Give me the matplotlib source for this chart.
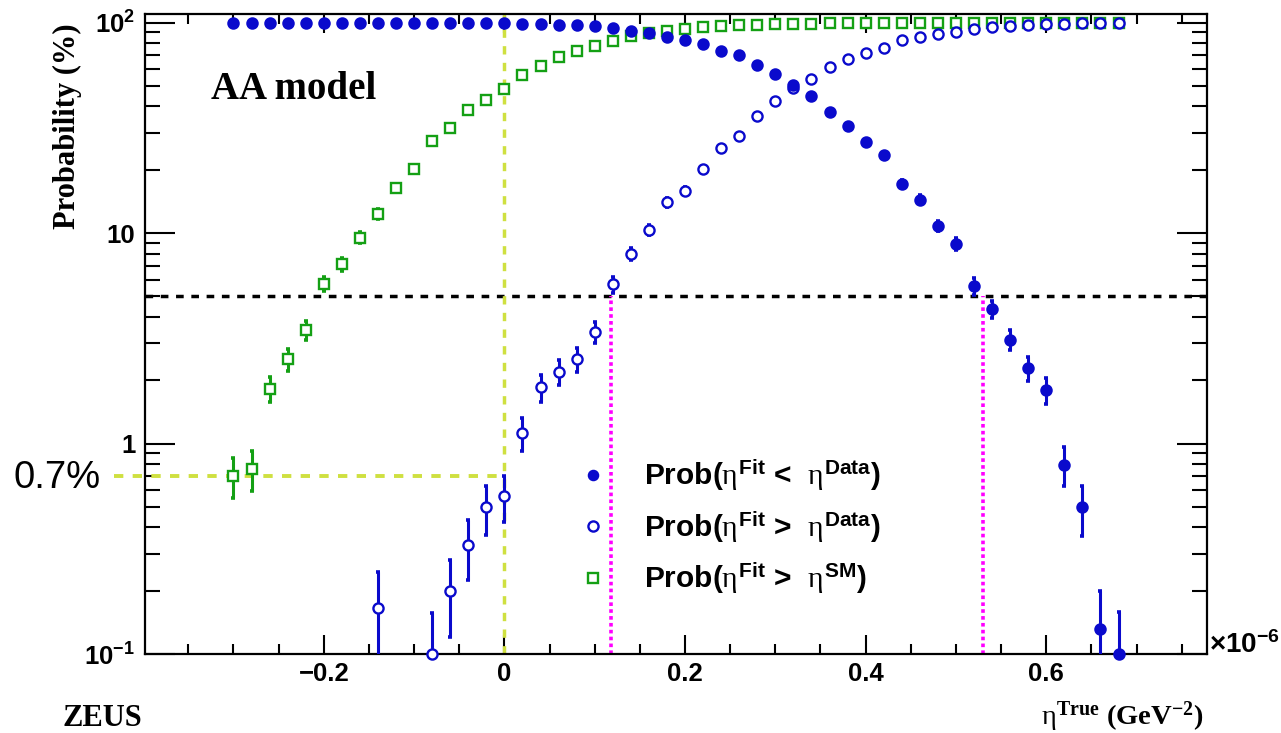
import numpy as np
import matplotlib
matplotlib.use('Agg')
import matplotlib.pyplot as plt
from matplotlib.lines import Line2D
from matplotlib.ticker import FixedLocator, FixedFormatter, MultipleLocator, LogLocator, NullFormatter

# ROOT-like look: bold Helvetica-style labels, upright serif eta in math
plt.rc('mathtext', fontset='custom',
       rm='Liberation Serif:weight=normal', it='Liberation Serif:weight=normal',
       bf='Liberation Sans:bold', sf='Liberation Serif:bold')
plt.rc('font', family='Liberation Sans', weight='bold')

# eta^True (units of 1e-6 GeV^-2)
eta = [-0.30, -0.28, -0.26, -0.24, -0.22, -0.20, -0.18, -0.16, -0.14, -0.12,
       -0.10, -0.08, -0.06, -0.04, -0.02, 0.00, 0.02, 0.04, 0.06, 0.08,
       0.10, 0.12, 0.14, 0.16, 0.18, 0.20, 0.22, 0.24, 0.26, 0.28,
       0.30, 0.32, 0.34, 0.36, 0.38, 0.40, 0.42, 0.44, 0.46, 0.48,
       0.50, 0.52, 0.54, 0.56, 0.58, 0.60, 0.62, 0.64, 0.66, 0.68]

# Prob(eta_fit < eta_data) in %
prob_lt = [99.6, 99.6, 99.6, 99.6, 99.6, 99.6, 99.6, 99.6, 99.5, 99.6,
           99.5, 99.5, 99.4, 99.3, 99.2, 99.2, 98.8, 98.2, 97.8, 97.3,
           96.5, 94.2, 91.5, 89.0, 85.2, 83.0, 78.8, 73.5, 70.5, 63.0,
           56.8, 50.5, 44.8, 37.8, 32.3, 27.1, 23.4, 17.1, 14.4, 10.8,
           8.9, 5.6, 4.37, 3.12, 2.28, 1.79, 0.795, 0.497, 0.132, 0.100]
err_lt = [0.12, 0.12, 0.12, 0.12, 0.12, 0.12, 0.12, 0.12, 0.13, 0.12,
          0.13, 0.13, 0.14, 0.15, 0.16, 0.16, 0.2, 0.25, 0.27, 0.3,
          0.35, 0.45, 0.52, 0.6, 0.67, 0.71, 0.77, 0.83, 0.86, 0.91,
          0.94, 0.94, 0.94, 0.92, 0.88, 0.84, 0.8, 0.71, 0.7, 0.6,
          0.63, 0.51, 0.41, 0.33, 0.29, 0.25, 0.168, 0.133, 0.067, 0.058]

# Prob(eta_fit > eta_data) in %
prob_gt = [0, 0, 0, 0, 0, 0, 0, 0, 0.165, 0,
           0, 0.100, 0.200, 0.33, 0.497, 0.562, 1.12, 1.85, 2.19, 2.51,
           3.40, 5.72, 7.98, 10.4, 14.0, 15.8, 20.2, 25.5, 28.9, 36.1,
           42.3, 48.9, 54.2, 61.8, 66.9, 71.9, 75.8, 82.6, 85.1, 88.3,
           90.2, 93.3, 94.9, 96.3, 97.8, 98.5, 99.0, 99.2, 99.5, 99.7]
err_gt = [0, 0, 0, 0, 0, 0, 0, 0, 0.08, 0,
          0, 0.057, 0.08, 0.105, 0.13, 0.137, 0.2, 0.27, 0.3, 0.33,
          0.4, 0.5, 0.52, 0.58, 0.66, 0.69, 0.76, 0.82, 0.86, 0.91,
          0.93, 0.94, 0.94, 0.92, 0.89, 0.85, 0.81, 0.72, 0.67, 0.61,
          0.56, 0.47, 0.42, 0.36, 0.28, 0.23, 0.19, 0.17, 0.13, 0.1]

# Prob(eta_fit > eta_SM) in %
prob_sm = [0.70, 0.758, 1.82, 2.52, 3.48, 5.75, 7.12, 9.53, 12.35, 16.4,
           20.2, 27.5, 31.6, 38.5, 43.0, 48.4, 56.4, 62.0, 68.7, 73.0,
           77.7, 81.8, 86.4, 88.9, 91.8, 93.6, 95.6, 96.6, 97.0, 97.8,
           98.3, 98.8, 99.0, 99.2, 99.3, 99.4, 99.5, 99.5, 99.5, 99.5,
           99.6, 99.6, 99.6, 99.6, 99.6, 99.7, 99.7, 99.7, 99.7, 99.7]
err_sm = [0.15, 0.16, 0.25, 0.3, 0.36, 0.43, 0.48, 0.55, 0.62, 0.7,
          0.76, 0.84, 0.88, 0.92, 0.94, 0.94, 0.94, 0.92, 0.88, 0.84,
          0.79, 0.73, 0.65, 0.6, 0.52, 0.46, 0.39, 0.34, 0.32, 0.28,
          0.24, 0.2, 0.18, 0.16, 0.15, 0.15, 0.14, 0.14, 0.14, 0.14,
          0.13, 0.13, 0.13, 0.13, 0.13, 0.12, 0.12, 0.12, 0.12, 0.12]

conf_level = 5.0       # 5% probability line
sm_prob_min = 0.7      # smallest Prob(eta_fit > eta_SM)
eta_lo, eta_hi = 0.118, 0.53   # crossings of the 5% line

BLUE = '#0a0acc'
GREEN = '#14a014'
YELLOW = '#cfe040'
MAGENTA = '#ff00ff'

W, H = 1281, 733
fig = plt.figure(figsize=(W / 100, H / 100), dpi=100)
ax = fig.add_axes([145 / W, 1 - 654 / H, (1207 - 145) / W, (654 - 14) / H])
ax.set_yscale('log')
ax.set_xlim(-0.398, 0.778)
ax.set_ylim(0.1, 110)


def draw_points(y, err, marker, face, color, z):
    x = np.asarray(eta)
    y = np.asarray(y, dtype=float)
    err = np.asarray(err, dtype=float)
    keep = y > 0
    ax.errorbar(x[keep], y[keep], yerr=err[keep], fmt='none', ecolor=color,
                elinewidth=2.2, capsize=1.6, capthick=2.6, zorder=z)
    ax.plot(x[keep], y[keep], ls='none', marker=marker, ms=7.3, mfc=face,
            mec=color, mew=1.7, clip_on=False, zorder=z + 0.1)


# reference lines
ax.axhline(conf_level, color='black', lw=2.5, ls=(0, (2.2, 2.2)), zorder=2)
ax.axvline(0, color=YELLOW, lw=2.5, ls=(0, (2.4, 2.4)), zorder=2)
ax.plot([-0.432, 0], [sm_prob_min, sm_prob_min], color=YELLOW, lw=2.8,
        ls=(0, (2.4, 2.4)), clip_on=False, zorder=2)
for xv in (eta_lo, eta_hi):
    ax.plot([xv, xv], [0.1, conf_level], color=MAGENTA, lw=2.6,
            ls=(0, (1, 0.9)), zorder=2)

draw_points(prob_sm, err_sm, 's', 'white', GREEN, 4)
draw_points(prob_gt, err_gt, 'o', 'white', BLUE, 5)
draw_points(prob_lt, err_lt, 'o', BLUE, BLUE, 6)

# axes, ticks
for sp in ax.spines.values():
    sp.set_linewidth(1.6)
ax.xaxis.set_major_locator(FixedLocator([-0.2, 0, 0.2, 0.4, 0.6]))
ax.xaxis.set_major_formatter(FixedFormatter(['\u22120.2', '0', '0.2', '0.4', '0.6']))
ax.xaxis.set_minor_locator(MultipleLocator(0.05))
ax.yaxis.set_major_locator(FixedLocator([0.1, 1, 10, 100]))
ax.yaxis.set_major_formatter(FixedFormatter([r'$\mathbf{10^{-1}}$', '1', '10', r'$\mathbf{10^{2}}$']))
ax.yaxis.set_minor_locator(LogLocator(base=10, subs=np.arange(2, 10)))
ax.yaxis.set_minor_formatter(NullFormatter())
ax.tick_params(which='both', direction='in', top=True, right=True, width=1.5,
               labelsize=18.5)
ax.tick_params(axis='x', which='major', length=13.5, pad=6)
ax.tick_params(axis='x', which='minor', length=7)
ax.tick_params(axis='y', which='major', length=21.5, pad=7)
ax.tick_params(axis='y', which='minor', length=10.8)

# legend
handles = [
    Line2D([], [], ls='none', marker='o', ms=7.3, mfc=BLUE, mec=BLUE),
    Line2D([], [], ls='none', marker='o', ms=7.3, mfc='white', mec=BLUE, mew=1.7),
    Line2D([], [], ls='none', marker='s', ms=7.3, mfc='white', mec=GREEN, mew=1.7),
]
labels = [r'Prob($\eta^{\mathbf{Fit}}$ <  $\eta^{\mathbf{Data}}$)',
          r'Prob($\eta^{\mathbf{Fit}}$ >  $\eta^{\mathbf{Data}}$)',
          r'Prob($\eta^{\mathbf{Fit}}$ >  $\eta^{\mathbf{SM}}$)']
ax.legend(handles, labels, loc='center left',
          bbox_to_anchor=(578 / W, 1 - 527 / H), bbox_transform=fig.transFigure,
          frameon=False, fontsize=21.5, handlelength=1.0, handletextpad=1.2,
          borderpad=0, borderaxespad=0, labelspacing=0.55)

# labels and annotations
fig.text(67 / W, 1 - 23 / H, 'Probability (%)', rotation=90, ha='center', va='top',
         family='Liberation Serif', weight='bold', size=22)
fig.text(211 / W, 1 - 99 / H, 'AA model', ha='left', va='baseline',
         family='Liberation Serif', weight='bold', size=28)
fig.text(63 / W, 1 - 726 / H, 'ZEUS', ha='left', va='baseline',
         family='Liberation Serif', weight='bold', size=22)
fig.text(1203 / W, 1 - 725 / H, r'$\mathrm{\eta}^{\mathsf{True}}$ (GeV$^{\mathsf{-2}}$)',
         ha='right', va='baseline', family='Liberation Serif', weight='bold', size=20.5)
fig.text(1209 / W, 1 - 645 / H, r'$\mathbf{\times10^{-6}}$', ha='left', va='center', size=20)
fig.text(13 / W, 1 - 478 / H, '0.7%', ha='left', va='center', weight='normal', size=27.5)

fig.savefig('out.png', dpi=100)
